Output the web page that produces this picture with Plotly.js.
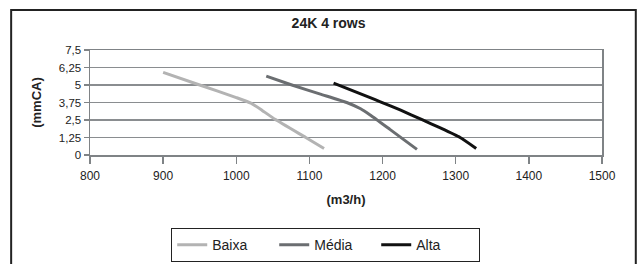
<!DOCTYPE html>
<html>
<head>
<meta charset="utf-8">
<script src="https://cdn.plot.ly/plotly-3.0.1.min.js"></script>
<style>
html,body{margin:0;padding:0;background:#fff;}
#chart{width:639px;height:264px;}
</style>
</head>
<body>
<div id="chart"></div>
<script>
// Data
const seriesNames = ["Baixa", "Média", "Alta"];
const baixaX = [900, 950, 1000, 1020, 1035, 1053, 1095, 1120];
const baixaY = [5.9, 5.0, 4.1, 3.7, 3.2, 2.55, 1.25, 0.47];
const mediaX = [1041, 1076, 1115, 1151, 1170, 1183, 1210, 1247];
const mediaY = [5.63, 5.0, 4.35, 3.75, 3.3, 2.86, 1.83, 0.4];
const altaX = [1133, 1183, 1197, 1224, 1254, 1279, 1306, 1328];
const altaY = [5.14, 4.1, 3.8, 3.22, 2.52, 1.93, 1.25, 0.47];
const yTickVals = [0, 1.25, 2.5, 3.75, 5, 6.25, 7.5];
const yTickText = ["0", "1,25", "2,5", "3,75", "5", "6,25", "7,5"];
const xTickVals = [800, 900, 1000, 1100, 1200, 1300, 1400, 1500];
const xTickText = ["800", "900", "1000", "1100", "1200", "1300", "1400", "1500"];

const colors = ["#b3b3b3", "#6b6e71", "#111111"];
const xs = [baixaX, mediaX, altaX];
const ys = [baixaY, mediaY, altaY];

const traces = seriesNames.map((n, i) => ({
  type: "scatter", mode: "lines", name: n,
  x: xs[i], y: ys[i],
  line: {color: colors[i], width: 3, shape: "spline", smoothing: 0.5}
}));

const font = "Liberation Sans, Arial, sans-serif";
const layout = {
  width: 639, height: 264,
  margin: {l: 90, r: 37, t: 50, b: 109, pad: 0, autoexpand: false},
  paper_bgcolor: "#ffffff", plot_bgcolor: "#ffffff",
  font: {family: font, color: "#222", size: 12},
  showlegend: true,
  title: {text: "<b>24K 4 rows</b>", font: {family: font, size: 14, color: "#222"},
          x: 0.466, xref: "paper", xanchor: "center", y: 0.912, yref: "container", yanchor: "middle"},
  xaxis: {
    range: [800, 1500], tickvals: xTickVals, ticktext: xTickText,
    showgrid: false, zeroline: false,
    showline: true, linecolor: "#7f8386", linewidth: 1.5, mirror: true,
    ticks: "outside", ticklen: 7, tickcolor: "#7f8386", tickwidth: 1.5,
    ticklabelstandoff: 2,
    tickfont: {size: 12, color: "#222"},
    title: {text: "<b>(m3/h)</b>", font: {size: 13, color: "#222"}, standoff: 13}
  },
  yaxis: {
    range: [0, 7.5], tickvals: yTickVals, ticktext: yTickText,
    showgrid: true, gridcolor: "#8a8d90", gridwidth: 1.2, zeroline: false,
    showline: true, linecolor: "#7f8386", linewidth: 1.5, mirror: true,
    ticks: "outside", ticklen: 5, tickcolor: "#7f8386", tickwidth: 1.5,
    tickfont: {size: 11.5, color: "#222"},
    title: {text: "<b>(mmCA)</b>", font: {size: 13, color: "#222"}, standoff: 14}
  },
  legend: {
    orientation: "h", x: 0.46, xanchor: "center",
    yref: "container", y: 0.137, yanchor: "top",
    bordercolor: "#222", borderwidth: 1.2, bgcolor: "#fff",
    font: {size: 14, color: "#222"}, entrywidth: 57,
    tracegroupgap: 0
  },
  shapes: [
    {type: "line", xref: "paper", yref: "y", x0: 0, x1: 1, y0: 2.5, y1: 2.5,
     line: {color: "#111", width: 1.2}, layer: "below"},
    {type: "rect", xref: "paper", yref: "paper", x0: -0.154, x1: 1.066, y0: -1.2, y1: 1.38,
     line: {color: "#222", width: 2}, fillcolor: "rgba(0,0,0,0)", layer: "below"}
  ]
};

Plotly.newPlot("chart", traces, layout, {displayModeBar: false, staticPlot: true});
</script>
</body>
</html>
